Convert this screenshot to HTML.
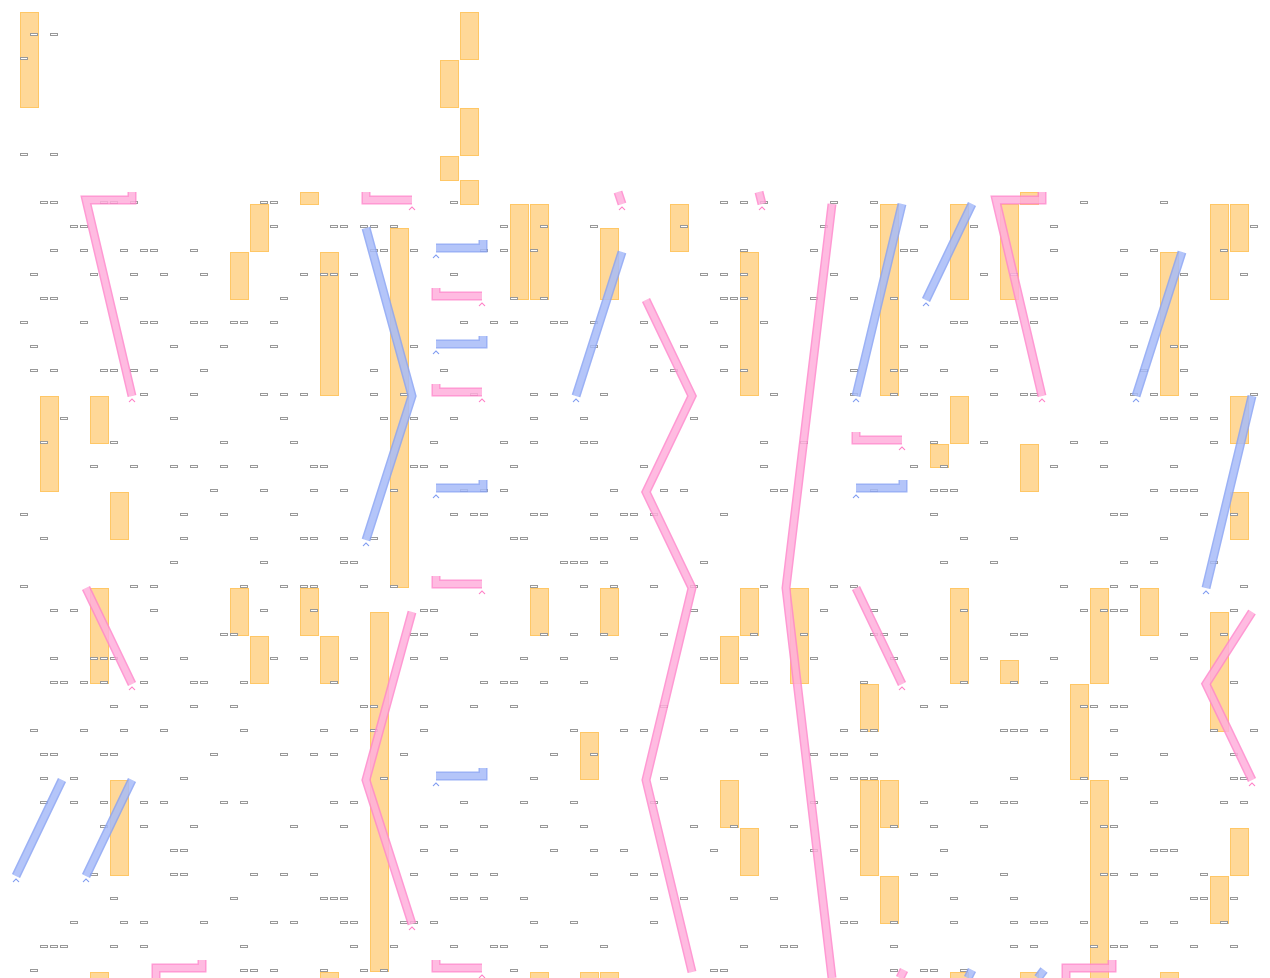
<!DOCTYPE html>
<html><head><meta charset="utf-8"><style>
html,body{margin:0;padding:0;background:#fff;width:1270px;height:978px;overflow:hidden}
svg{display:block}
.o{fill:#ffd898;stroke:#ffc766;stroke-width:1}
.s{fill:#fff;stroke:#999;stroke-width:1}
.pk{fill:none;stroke:#ff88cc;stroke-width:9;stroke-linejoin:miter}
.pk2{fill:none;stroke:#ffb0dc;stroke-width:6;stroke-linejoin:miter}
.bl{fill:none;stroke:#8aa4f4;stroke-width:9;stroke-linejoin:miter}
.bl2{fill:none;stroke:#a8bcf8;stroke-width:6;stroke-linejoin:miter}
</style></head><body>
<svg id="s" width="1270" height="978" xmlns="http://www.w3.org/2000/svg">
<g id="bars"></g><g id="small"></g><g id="lines" opacity="0.85"></g>
</svg>
<script>
var NS="http://www.w3.org/2000/svg";
function el(p,t,a){var e=document.createElementNS(NS,t);for(var k in a)e.setAttribute(k,a[k]);p.appendChild(e);return e;}
var bars=[[20,12,95],[460,12,47],[440,60,47],[460,108,47],[440,156,24],[460,180,24],[300,192,12],
[250,204,47],[230,252,47],[320,252,143],[390,228,359],[510,204,95],[530,204,95],[600,228,71],[670,204,47],
[740,252,143],[880,204,191],[950,204,95],[1000,204,95],[1020,192,12],[1160,252,143],[1210,204,95],[1230,204,47],
[40,396,95],[90,396,47],[110,492,47],[950,396,47],[930,444,23],[1020,444,47],[1230,396,47],[1230,492,47],
[90,588,95],[230,588,47],[250,636,47],[300,588,47],[320,636,47],[370,612,359],[530,588,47],[600,588,47],
[740,588,47],[720,636,47],[790,588,95],[950,588,95],[1000,660,23],[1090,588,95],[1070,684,95],[1090,780,198],
[1140,588,47],[1210,612,119],[860,684,47],[580,732,47],[110,780,95],[720,780,47],[740,828,47],
[860,780,95],[880,780,47],[880,876,47],[1230,828,47],[1210,876,47],
[90,972,10],[320,972,10],[530,972,10],[580,972,10],[600,972,10],[950,972,10],[1020,972,10],[1160,972,10]];
var g=document.getElementById("bars");
bars.forEach(function(b){el(g,"rect",{class:"o",x:b[0]+.5,y:b[1]+.5,width:18,height:b[2]});});
// small rects
var sg=document.getElementById("small");var seed=7;
function rnd(){seed=(seed*9301+49297)%233280;return seed/233280;}
for(var x=20;x<1260;x+=10){for(var y=10;y<975;y+=24){
 var yy=y+((x/10)%2?0:0);
 if(y<190 && !(x<=60||(x==440&&y<12))) continue;
 if(rnd()<0.14) el(sg,"rect",{class:"s",x:x+.5,y:yy-1+.5,width:7,height:2});
}}
var lg=document.getElementById("lines");
function line(pts,c){var p=pts.map(function(q){return q.join(",")}).join(" ");
 el(lg,"polyline",{class:c,points:p});el(lg,"polyline",{class:c+"2",points:p});}
function arrow(x,y,c){el(lg,"polyline",{points:(x-3)+","+(y+4)+" "+x+","+(y+1)+" "+(x+3)+","+(y+4),fill:"none",stroke:c=="pk"?"#ff66bb":"#6688ee","stroke-width":1});}
var P="pk",B="bl";
line([[132,192],[132,200],[86,200],[132,396]],P);arrow(132,398,P);
line([[366,192],[366,200],[412,200]],P);arrow(412,206,P);
line([[366,228],[412,396],[366,540]],B);arrow(366,542,B);
line([[483,240],[483,248],[436,248]],B);arrow(436,254,B);
line([[436,288],[436,296],[482,296]],P);arrow(482,302,P);
line([[483,336],[483,344],[436,344]],B);arrow(436,350,B);
line([[436,384],[436,392],[482,392]],P);arrow(482,398,P);
line([[483,480],[483,488],[436,488]],B);arrow(436,494,B);
line([[436,576],[436,584],[482,584]],P);arrow(482,590,P);
line([[618,192],[622,204]],P);arrow(622,206,P);
line([[576,396],[622,252]],B);arrow(576,398,B);
line([[646,300],[692,396],[646,492],[692,588],[646,780],[692,972]],P);
line([[759,192],[762,204]],P);arrow(762,206,P);
line([[832,204],[786,588],[832,978]],P);
line([[856,396],[902,204]],B);arrow(856,398,B);
line([[926,300],[972,204]],B);arrow(926,302,B);
line([[1042,192],[1042,200],[996,200],[1042,396]],P);arrow(1042,398,P);
line([[856,432],[856,440],[902,440]],P);arrow(902,446,P);
line([[903,480],[903,488],[856,488]],B);arrow(856,494,B);
line([[1136,396],[1182,252]],B);arrow(1136,398,B);
line([[1206,588],[1252,396]],B);arrow(1206,590,B);
line([[86,588],[132,684]],P);arrow(132,686,P);
line([[16,876],[62,780]],B);arrow(16,878,B);
line([[86,876],[132,780]],B);arrow(86,878,B);
line([[412,612],[366,780],[412,924]],P);arrow(412,926,P);
line([[483,768],[483,776],[436,776]],B);arrow(436,782,B);
line([[856,588],[902,684]],P);arrow(902,686,P);
line([[1252,612],[1206,684],[1252,780]],P);arrow(1252,782,P);
line([[156,978],[156,968],[202,968],[202,960]],P);
line([[436,960],[436,968],[482,968]],P);arrow(482,974,P);
line([[1066,978],[1066,968],[1112,968],[1112,960]],P);
line([[900,978],[904,970]],P);
line([[968,978],[972,970]],B);
line([[1038,978],[1044,970]],B);
</script>
</body></html>
